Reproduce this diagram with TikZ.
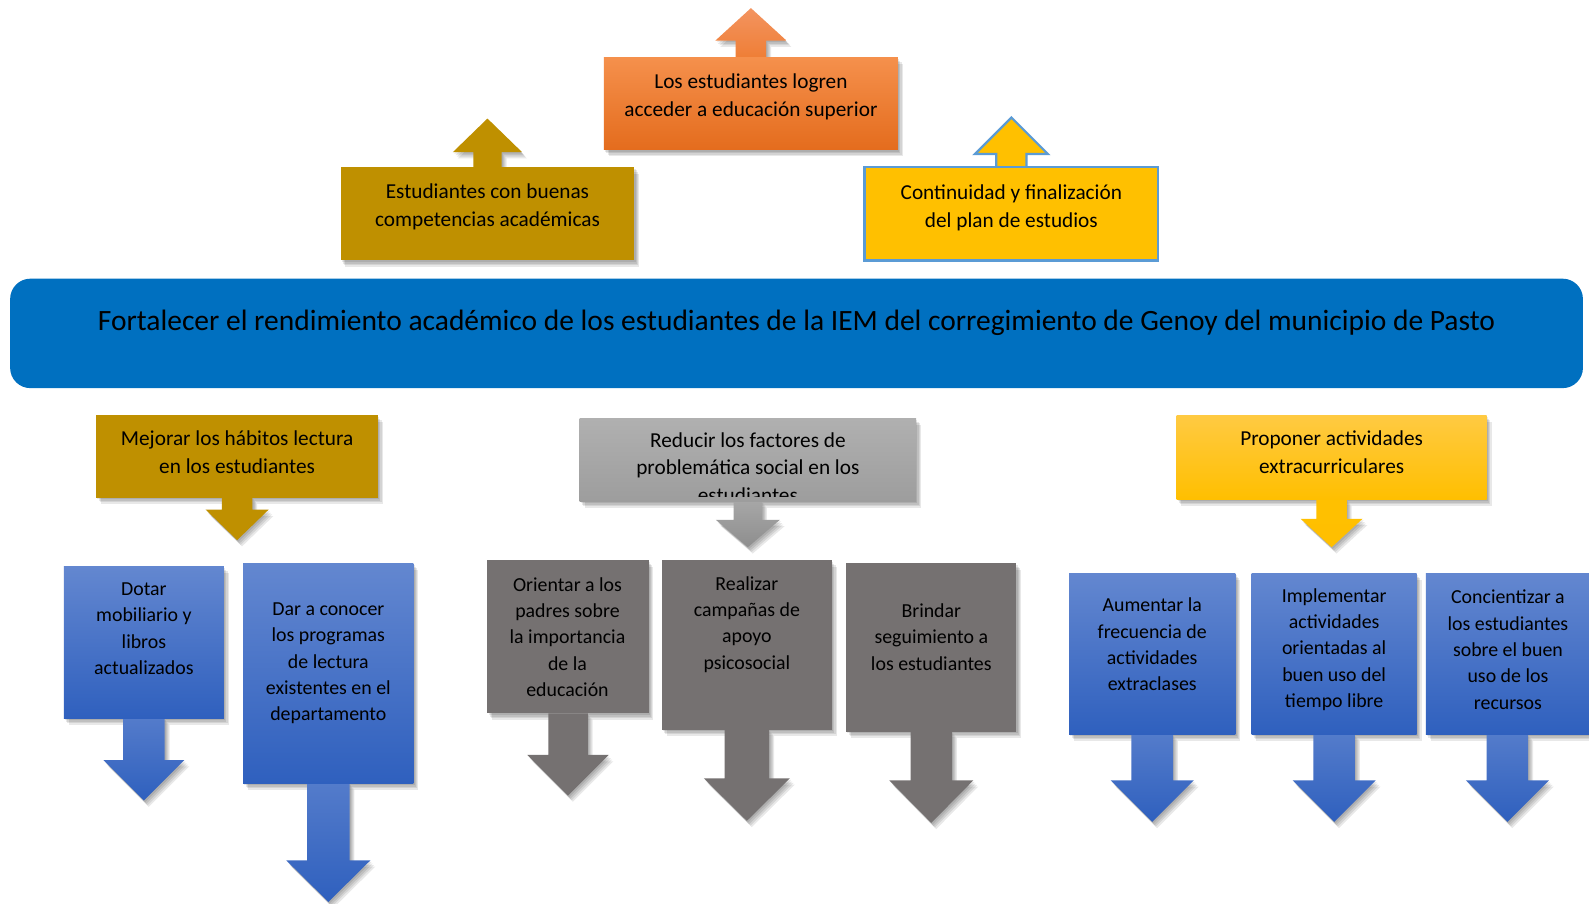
\documentclass[tikz,border=0pt]{standalone}
\usepackage{fontspec}
\setmainfont{Carlito}
\usetikzlibrary{calc,shadows,backgrounds}
\definecolor{orT}{HTML}{F5904C}
\definecolor{orB}{HTML}{E46C1D}
\definecolor{orAT}{HTML}{F39460}
\definecolor{orAB}{HTML}{EF7E36}
\definecolor{gold}{HTML}{BF9000}
\definecolor{yel}{HTML}{FFC000}
\definecolor{ybord}{HTML}{5B9BD5}
\definecolor{mainblue}{HTML}{0070C0}
\definecolor{gsT}{HTML}{B0B0B0}
\definecolor{gsB}{HTML}{9D9D9D}
\definecolor{gsAT}{HTML}{A6A6A6}
\definecolor{gsAB}{HTML}{8E8E8E}
\definecolor{y2T}{HTML}{FFCA42}
\definecolor{y2B}{HTML}{FFBF00}
\definecolor{dgray}{HTML}{757171}
\definecolor{blT}{HTML}{6387D0}
\definecolor{blB}{HTML}{2F60BE}
\newcommand{\darrow}[6]{\path[#1] ($(#2.south)+(-#3,0)$) -- ++(0,#5) -- ++({#3-#4},0) -- ++(#4,#6) -- ++(#4,{-#6}) -- ++({#3-#4},0) -- ++(0,{-#5}) -- cycle;}
\newcommand{\uarrow}[6]{\path[#1] ($(#2.north)+(-#3,0)$) -- ++(0,{-#5}) -- ++({#3-#4},0) -- ++(#4,{-#6}) -- ++(#4,#6) -- ++({#3-#4},0) -- ++(0,#5) -- cycle;}
\newcommand{\bshadow}[2][]{\foreach \s in {0.6,1.2,1.8,2.4}{\fill[black,opacity=0.09,#1] ([shift={(\s*1pt,-1.3*\s*1pt)}]#2.north west) rectangle ([shift={(\s*1pt,-1.3*\s*1pt)}]#2.south east);}}
\tikzset{
  shd/.style={drop shadow={shadow xshift=0.6pt,shadow yshift=-0.8pt,opacity=0.09,fill=black},
              drop shadow={shadow xshift=1.2pt,shadow yshift=-1.6pt,opacity=0.09,fill=black},
              drop shadow={shadow xshift=1.8pt,shadow yshift=-2.3pt,opacity=0.09,fill=black},
              drop shadow={shadow xshift=2.4pt,shadow yshift=-3.1pt,opacity=0.09,fill=black}},
  bx/.style={rectangle,inner sep=0pt,outer sep=0pt,draw=none},
  ttop/.style={align=center,inner sep=0pt,text=black,font=\fontsize{10.5}{13.7}\selectfont},
  tlow/.style={align=center,inner sep=0pt,text=black,font=\fontsize{9.8}{13}\selectfont},
  orangefill/.style={top color=orT,bottom color=orB},
  orangearrow/.style={top color=orAT,bottom color=orAB,shd},
  goldfill/.style={fill=gold},
  goldarrow/.style={fill=gold,shd},
  yelfill/.style={fill=yel,draw=ybord,line width=1.1pt},
  yelarrow/.style={fill=yel,draw=ybord,line width=1.1pt},
  grayfill/.style={top color=gsT,bottom color=gsB},
  grayarrow/.style={top color=gsAT,bottom color=gsAB,shd},
  y2fill/.style={top color=y2T,bottom color=y2B},
  y2arrow/.style={top color=yel,bottom color=y2B,shd},
  dgfill/.style={fill=dgray},
  dgarrow/.style={fill=dgray,shd},
  blfill/.style={top color=blT,bottom color=blB},
  blarrow/.style={top color=blT!70!blB,bottom color=blB,shd},
}
\begin{document}
\begin{tikzpicture}[x=0.5pt,y=-0.5pt]
\useasboundingbox (0,0) rectangle (1568,892);
% top row
\node[bx,orangefill,minimum width=145pt,minimum height=45.5pt] (O) at (741,102.5) {};
\node[bx,goldfill,minimum width=145pt,minimum height=46pt] (G1) at (481,211) {};
\node[bx,yelfill,minimum width=145pt,minimum height=46pt] (Y1) at (998,211) {};
\node[ttop] (Ot) at (741,95.5) {Los estudiantes logren\\acceder a educación superior};
\node[ttop] (G1t) at (481,204) {Estudiantes con buenas\\competencias académicas};
\node[ttop] (Y1t) at (998,205) {Continuidad y finalización\\del plan de estudios};
% main goal
\node[bx,fill=mainblue,rounded corners=10pt,minimum width=776pt,minimum height=54pt] (M) at (786,329) {};
\node[inner sep=0pt,text=black,font=\fontsize{14.55}{17}\selectfont] (Mt) at (786,319) {Fortalecer el rendimiento académico de los estudiantes de la IEM del corregimiento de Genoy del municipio de Pasto};
% second row
\node[bx,goldfill,minimum width=139pt,minimum height=40.5pt] (G2) at (234,450.5) {};
\node[ttop] (G2t) at (234,446.5) {Mejorar los hábitos lectura\\en los estudiantes};
\node[bx,grayfill,minimum width=166pt,minimum height=41pt] (S) at (738,454) {};
\begin{scope}
\clip (572,413) rectangle (904,490);
\node[ttop] (St) at (738,461.5) {Reducir los factores de\\problemática social en los\\estudiantes};
\end{scope}
\node[bx,y2fill,minimum width=153pt,minimum height=41.5pt] (Y2) at (1314,451.5) {};
\node[ttop] (Y2t) at (1314,446) {Proponer actividades\\extracurriculares};
% third row
\node[bx,blfill,minimum width=79pt,minimum height=75pt] (B1) at (142,634) {};
\node[tlow] (B1t) at (142,620.5) {Dotar\\mobiliario y\\libros\\actualizados};
\node[bx,blfill,minimum width=84pt,minimum height=108.5pt] (B2) at (324,664.5) {};
\node[tlow] (B2t) at (324,654.5) {Dar a conocer\\los programas\\de lectura\\existentes en el\\departamento};
\node[bx,dgfill,minimum width=79.5pt,minimum height=75.5pt] (A) at (560.5,628.5) {};
\node[tlow] (At) at (560,628.5) {Orientar a los\\padres sobre\\la importancia\\de la\\educación};
\node[bx,dgfill,minimum width=84pt,minimum height=83.5pt] (B) at (737,636.5) {};
\node[tlow] (Bt) at (737,616) {Realizar\\campañas de\\apoyo\\psicosocial};
\node[bx,dgfill,minimum width=84pt,minimum height=83pt] (C) at (919,639) {};
\node[tlow] (Ct) at (919,628.5) {Brindar\\seguimiento a\\los estudiantes};
\node[bx,blfill,minimum width=82pt,minimum height=79.5pt] (C1) at (1137,645.5) {};
\node[tlow] (C1t) at (1137,636) {Aumentar la\\frecuencia de\\actividades\\extraclases};
\node[bx,blfill,minimum width=81.5pt,minimum height=79.5pt] (C2) at (1316.5,645.5) {};
\node[tlow] (C2t) at (1316.5,641) {Implementar\\actividades\\orientadas al\\buen uso del\\tiempo libre};
\node[bx,blfill,minimum width=80.5pt,minimum height=79.5pt] (C3) at (1487.5,645.5) {};
\node[tlow] (C3t) at (1488,641) {Concientizar a\\los estudiantes\\sobre el buen\\uso de los\\recursos};
% shadows and block arrows
\begin{pgfonlayer}{background}
\fill[white] (0,0) rectangle (1568,892);
\bshadow{O}\bshadow{G1}
\bshadow{G2}\bshadow{S}\bshadow{Y2}
\bshadow{B1}\bshadow{B2}\bshadow{A}\bshadow{B}\bshadow{C}
\bshadow{C1}\bshadow{C2}\bshadow{C3}
\uarrow{orangearrow}{O}{15}{35}{17}{32}
\uarrow{goldarrow}{G1}{14}{34}{15}{33}
\uarrow{yelarrow}{Y1}{15}{36}{13}{36}
\darrow{goldarrow}{G2}{15}{31}{12}{30}
\darrow{grayarrow}{S}{14}{31.5}{18}{27}
\darrow{y2arrow}{Y2}{15}{30.5}{19}{28}
\darrow{blarrow}{B1}{20.5}{40}{41}{40}
\darrow{blarrow}{B2}{21}{41.5}{76}{41}
\darrow{dgarrow}{A}{19.5}{40}{41}{40}
\darrow{dgarrow}{B}{22}{42.5}{48}{42}
\darrow{dgarrow}{C}{20.5}{41.5}{48}{42}
\darrow{blarrow}{C1}{20.5}{41}{45}{41}
\darrow{blarrow}{C2}{20.5}{41}{45}{41}
\darrow{blarrow}{C3}{20.5}{41}{45}{41}
\end{pgfonlayer}
\end{tikzpicture}
\end{document}
